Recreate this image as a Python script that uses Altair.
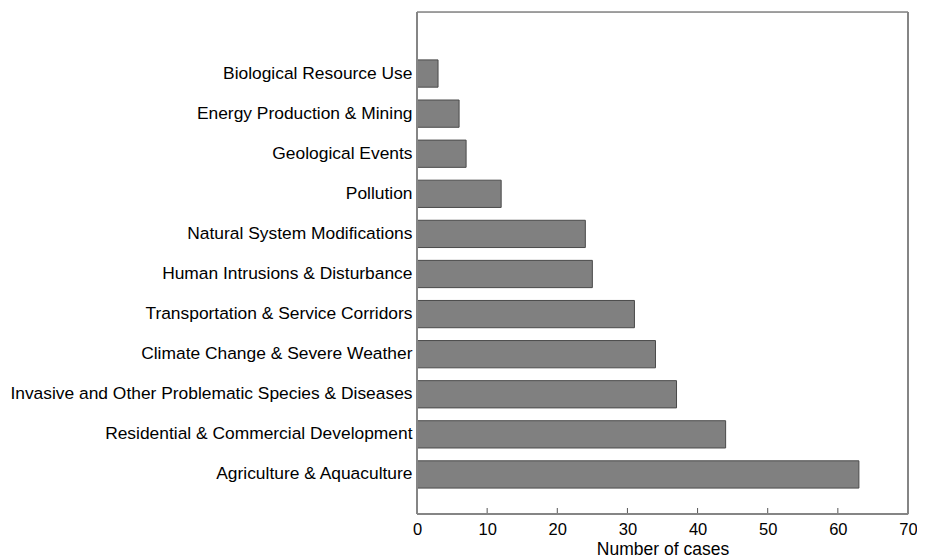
import altair as alt
import pandas as pd

categories = [
    "Biological Resource Use",
    "Energy Production & Mining",
    "Geological Events",
    "Pollution",
    "Natural System Modifications",
    "Human Intrusions & Disturbance",
    "Transportation & Service Corridors",
    "Climate Change & Severe Weather",
    "Invasive and Other Problematic Species & Diseases",
    "Residential & Commercial Development",
    "Agriculture & Aquaculture",
]
cases = [3, 6, 7, 12, 24, 25, 31, 34, 37, 44, 63]
tick_values = [0, 10, 20, 30, 40, 50, 60, 70]

df = pd.DataFrame({"category": categories, "cases": cases})
ticks_df = pd.DataFrame({"t": tick_values})

W = 491
H = 502
FONT = "Liberation Sans"
FRAME = "#858585"

xscale = alt.Scale(domain=[0, 70], nice=False)

bars = alt.Chart(df).mark_bar(
    color="#808080", stroke="#4a4a4a", strokeWidth=1
).encode(
    x=alt.X("cases:Q", scale=xscale,
            axis=alt.Axis(values=tick_values, title="Number of cases", ticks=False,
                          domain=False, grid=False, labelFontSize=16.5, labelColor="#000",
                          labelFont=FONT, titleFont=FONT, titleFontSize=17.5,
                          titleFontWeight="normal", titleColor="#000", labelPadding=7,
                          titlePadding=3, labelFlush=False)),
    y=alt.Y("category:N", sort=categories,
            scale=alt.Scale(range=[41.5, 482.5], paddingInner=0.32, paddingOuter=0.16),
            axis=alt.Axis(title=None, ticks=False, domain=False, labelFontSize=17.4,
                          labelColor="#000", labelFont=FONT, labelPadding=5,
                          labelLimit=500)),
)

ticks = alt.Chart(ticks_df).mark_rule(color="#555", strokeWidth=1).encode(
    x=alt.X("t:Q", scale=xscale),
    y=alt.value(H - 6),
    y2=alt.value(H),
)

frame_df = pd.DataFrame({"k": [0]})
left = alt.Chart(frame_df).mark_rule(color=FRAME, strokeWidth=2).encode(
    x=alt.value(0), y=alt.value(0), y2=alt.value(H))
bottom = alt.Chart(frame_df).mark_rule(color=FRAME, strokeWidth=2).encode(
    x=alt.value(0), x2=alt.value(W), y=alt.value(H))
top = alt.Chart(frame_df).mark_rule(color=FRAME, strokeWidth=1.5).encode(
    x=alt.value(0), x2=alt.value(W), y=alt.value(0))
right = alt.Chart(frame_df).mark_rule(color=FRAME, strokeWidth=2).encode(
    x=alt.value(W), y=alt.value(0), y2=alt.value(H))

chart = alt.layer(bars, ticks, left, bottom, top, right).properties(
    width=W, height=H,
    padding={"left": 409, "top": 4, "right": 9, "bottom": 44},
    autosize=alt.AutoSizeParams(type="none"),
).configure_view(
    stroke=None
).configure(background="white")

chart.save("out.html", embed_options={"renderer": "svg", "actions": False})
